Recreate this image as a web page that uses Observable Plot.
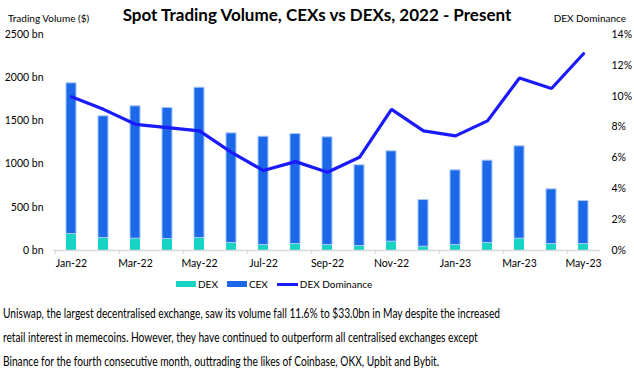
<!DOCTYPE html>
<html>
<head>
<meta charset="utf-8">
<script src="https://cdn.jsdelivr.net/npm/d3@7"></script>
<script src="https://cdn.jsdelivr.net/npm/@observablehq/plot@0.6"></script>
<style>
  html, body { margin: 0; padding: 0; background: #fff; }
  #wrap { position: relative; width: 634px; height: 376px; overflow: hidden; font-family: Lato, "Open Sans", sans-serif; color: #000; }
  #title { position: absolute; top: 4px; left: 0; width: 634px; text-align: center; font-weight: bold; font-size: 17px; }
  .axlab { position: absolute; top: 12px; font-size: 10px; }
  #chart { position: absolute; top: 0; left: 0; }
  #legend { position: absolute; top: 278px; left: 176px; display: flex; align-items: center; font-size: 10px; }
  #legend .sw { display: inline-block; width: 20px; height: 6px; margin-right: 2px; }
  #legend .ln { display: inline-block; width: 21px; height: 3px; margin-right: 2px; }
  #legend .item { display: flex; align-items: center; margin-right: 9px; }
  #caption { position: absolute; top: 301px; left: 3px; font-size: 12.8px; line-height: 24px; white-space: nowrap; transform-origin: 0 0; }
  #caption span { display: block; }
</style>
</head>
<body>
<div id="wrap">
  <div id="chart"></div>
  <div id="title">Spot Trading Volume, CEXs vs DEXs, 2022 - Present</div>
  <div class="axlab" style="left:8px">Trading Volume ($)</div>
  <div class="axlab" style="right:8px">DEX Dominance</div>
  <div id="legend"></div>
  <div id="caption"><span><span id="cap1" style="display:inline">Uniswap, the largest decentralised exchange, saw its volume fall 11.6% to $33.0bn in May despite the increased</span></span><span>retail interest in memecoins. However, they have continued to outperform all centralised exchanges except</span><span>Binance for the fourth consecutive month, outtrading the likes of Coinbase, OKX, Upbit and Bybit.</span></div>
</div>
<script>
const months = ["Jan-22","Feb-22","Mar-22","Apr-22","May-22","Jun-22","Jul-22","Aug-22","Sep-22","Oct-22","Nov-22","Dec-22","Jan-23","Feb-23","Mar-23","Apr-23","May-23"];
const dex = [191,145,137,133,145,87,64,75,64,52,102,44,64,87,137,75,75];
const cex = [1744,1408,1532,1516,1739,1269,1253,1273,1246,934,1046,540,864,953,1069,633,498];
const dominance = [9.96,9.15,8.18,7.97,7.75,6.36,5.18,5.76,5.07,6.04,9.15,7.75,7.43,8.40,11.18,10.50,12.75];
const volumeTicks = [0,500,1000,1500,2000,2500];
const pctTicks = [0,2,4,6,8,10,12,14];
const seriesNames = ["DEX","CEX","DEX Dominance"];

const colors = {DEX: "#19d3c5", CEX: "#1b69e8", DOM: "#1a1aff"};
const yMax = 2500, pMax = 14;
const toY = p => p * yMax / pMax;

const width = 634, height = 275, mL = 53, mR = 34, mT = 34, mB = 25;
const step = (width - mL - mR) / months.length;
const labelMonths = months.filter((_, i) => i % 2 === 0);

const rows = months.map((m, i) => ({month: m, dex: dex[i], cex: cex[i], total: dex[i] + cex[i], dom: dominance[i]}));

const plot = Plot.plot({
  width, height,
  marginLeft: mL, marginRight: mR, marginTop: mT, marginBottom: mB,
  style: {fontFamily: "Lato, 'Open Sans', sans-serif", fontSize: "10.5px", color: "#000", background: "transparent"},
  x: {type: "band", domain: months, paddingInner: 0.69, paddingOuter: 0.345, align: 0.5},
  y: {domain: [0, yMax]},
  marks: [
    Plot.barY(rows, {x: "month", y1: 0, y2: "dex", fill: colors.DEX}),
    Plot.barY(rows, {x: "month", y1: "dex", y2: "total", fill: colors.CEX, stroke: "#a8c8f6", strokeWidth: 1}),
    Plot.ruleY([0], {stroke: "#d9d9d9", strokeWidth: 1.5}),
    Plot.axisX({ticks: labelMonths, tickSize: 4, tickFormat: () => "", dx: -step / 2, stroke: "#d9d9d9", label: null}),
    Plot.axisX({ticks: labelMonths, tickSize: 0, tickPadding: 9, label: null}),
    Plot.axisY({ticks: volumeTicks, tickFormat: d => d + " bn", tickSize: 0, tickPadding: 10, label: null}),
    Plot.axisY({anchor: "right", ticks: pctTicks.map(toY), tickFormat: d => Math.round(d * pMax / yMax) + "%", tickSize: 0, tickPadding: 11, label: null}),
    Plot.line(rows, {x: "month", y: d => toY(d.dom), stroke: colors.DOM, strokeWidth: 3.2, strokeLinejoin: "miter"})
  ]
});
document.getElementById("chart").appendChild(plot);

const legend = document.getElementById("legend");
[[seriesNames[0], "sw", colors.DEX], [seriesNames[1], "sw", colors.CEX], [seriesNames[2], "ln", colors.DOM]].forEach(([name, cls, c]) => {
  const it = document.createElement("div");
  it.className = "item";
  it.innerHTML = `<span class="${cls}" style="background:${c}"></span><span>${name}</span>`;
  legend.appendChild(it);
});

// compress the caption horizontally so its first line spans the reference's width
const cap = document.getElementById("caption");
const cap1 = document.getElementById("cap1");
const targetWidth = 497;
const w = cap1.getBoundingClientRect().width;
if (w > 0) cap.style.transform = `scaleX(${(targetWidth / w).toFixed(4)})`;
</script>
</body>
</html>
